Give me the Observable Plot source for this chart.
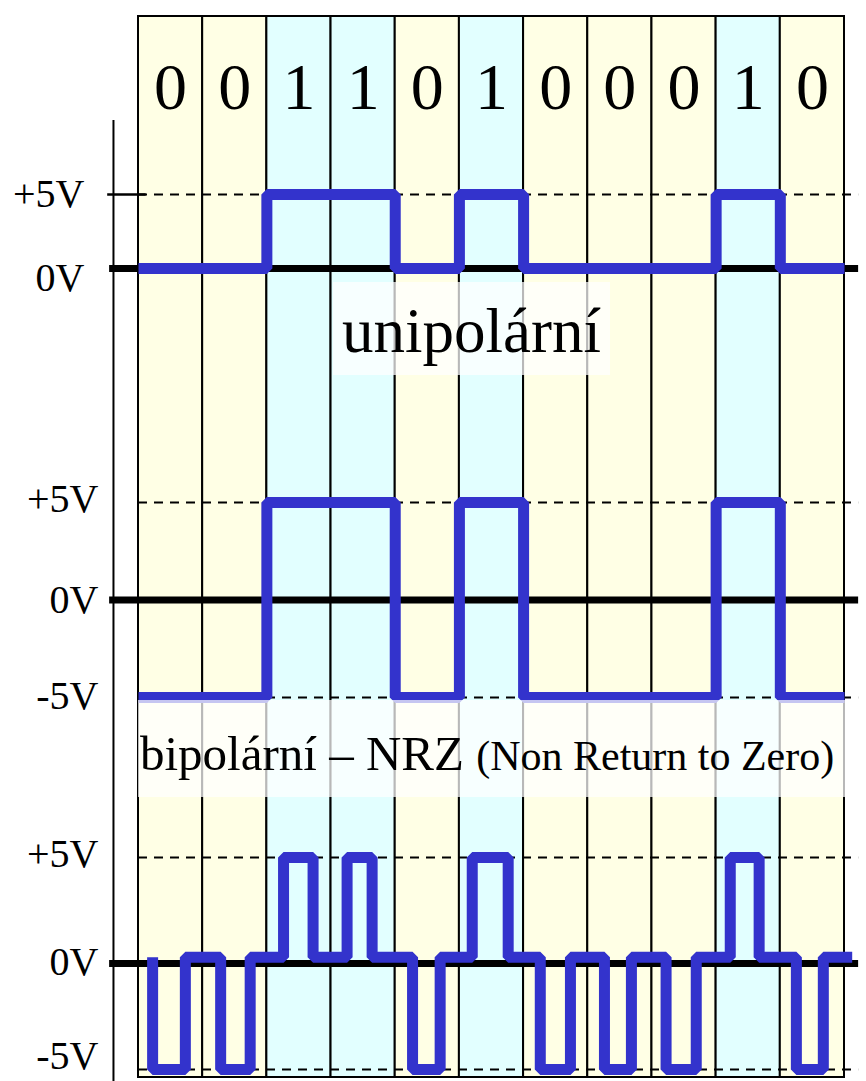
<!DOCTYPE html>
<html><head><meta charset="utf-8">
<script src="https://cdn.jsdelivr.net/npm/d3@7"></script>
<script src="https://cdn.jsdelivr.net/npm/@observablehq/plot@0.6"></script>
<style>
body{margin:0;background:#fff;}
#wrap{position:relative;width:866px;height:1081px;overflow:hidden;font-family:"Liberation Serif","Times New Roman",serif;}
#wrap svg{position:absolute;left:0;top:0;}
.note{position:absolute;background:rgba(255,255,255,0.72);color:#000;white-space:nowrap;box-sizing:border-box;}
</style></head><body><div id="wrap"></div>
<script>
// ---- data ----
const bits = [0, 0, 1, 1, 0, 1, 0, 0, 0, 1, 0];
const unipolarV = [0, 0, 5, 5, 0, 5, 0, 0, 0, 5, 0];
const nrzV = [-5, -5, 5, 5, -5, 5, -5, -5, -5, 5, -5];
// return-to-zero pulses (in bit units)
const rzStart = [0.22, 1.28, 2.26, 3.25, 4.27, 5.20, 6.26, 7.26, 8.22, 9.22, 10.25];
const rzEnd   = [0.73, 1.74, 2.72, 3.64, 4.70, 5.76, 6.73, 7.68, 8.69, 9.67, 10.67];
const rzLevel = [-5, -5, 5, 5, -5, 5, -5, -5, -5, 5, -5];
const rzRest = 0.3;
const rzTraceEnd = 11.12;
const levelLabels = {"5": "+5V", "0": "0V", "-5": "-5V"};

// ---- layout / style ----
const W = 866, H = 1081, ML = 138, MR = 22;
const FONT = "Liberation Serif, Times New Roman, serif";
const BLUE = "#3333cc", YELLOW = "#ffffe5", CYAN = "#e2ffff";
const AXIS_X = -0.39, ZERO_X1 = -0.45, X_END = 11.22;
const N = bits.length;

const wrap = document.getElementById("wrap");

// background: bit cells, grid, bit labels, left axis line
const cells = bits.map((b, i) => ({i, b}));
const bg = Plot.plot({
  width: W, height: H, marginLeft: ML, marginRight: MR, marginTop: 16, marginBottom: 0,
  x: {domain: [0, N], axis: null},
  y: {domain: [0, H - 16], axis: null},
  color: {type: "identity"},
  style: {background: "white", fontFamily: FONT, overflow: "visible"},
  marks: [
    Plot.rect(cells, {x1: "i", x2: d => d.i + 1, y1: 4, y2: H - 16,
      fill: d => d.b ? CYAN : YELLOW, stroke: "#000", strokeWidth: 2}),
    Plot.text(cells, {x: d => d.i + 0.5, frameAnchor: "top", dy: 92, lineAnchor: "bottom",
      text: d => String(d.b), fontSize: 66, fill: "#000", fontFamily: FONT}),
    Plot.ruleX([AXIS_X], {y1: 0, y2: H - 120, stroke: "#000", strokeWidth: 2})
  ]
});
wrap.appendChild(bg);

function panel({yTop, yBottom, domain, ticks, labelDy, dashed, pad, points, curve, extra = []}) {
  return Plot.plot({
    width: W, height: H, marginLeft: ML, marginRight: MR,
    marginTop: yTop, marginBottom: H - yBottom,
    x: {domain: [0, N], axis: null},
    y: {domain, axis: null},
    style: {background: "transparent", fontFamily: FONT, overflow: "visible", color: "#000"},
    marks: [
      Plot.ruleY(dashed, {x1: 0, x2: X_END, stroke: "#000", strokeWidth: 2, strokeDasharray: "9,7"}),
      Plot.ruleY([0], {x1: ZERO_X1, x2: X_END, stroke: "#000", strokeWidth: 7}),
      ...extra,
      Plot.line(points, {x: "t", y: "v", curve, stroke: BLUE, strokeWidth: 11,
        strokeLinejoin: "miter", strokeLinecap: "butt"}),
      ...ticks.map((t, k) => Plot.text([t], {y: d => d, text: d => levelLabels[String(d)],
        frameAnchor: "left", dx: -pad, dy: labelDy[k], textAnchor: "end", lineAnchor: "middle",
        fontSize: 40, fill: "#000", fontFamily: FONT}))
    ]
  });
}

const stepPoints = V => [...V.map((v, i) => ({t: i, v})), {t: N, v: V[N - 1]}];
const rzPoints = [];
rzStart.forEach((s, i) => {
  rzPoints.push({t: s, v: rzRest}, {t: s, v: rzLevel[i]}, {t: rzEnd[i], v: rzLevel[i]}, {t: rzEnd[i], v: rzRest});
});
rzPoints.push({t: rzTraceEnd, v: rzRest});

wrap.appendChild(panel({yTop: 194, yBottom: 268, domain: [0, 5], ticks: [5, 0], labelDy: [0, 10],
  dashed: [5], pad: 54, points: stepPoints(unipolarV), curve: "step-after",
  extra: [Plot.ruleY([5], {x1: -0.48, x2: 0.12, stroke: "#000", strokeWidth: 2.5})]}));
wrap.appendChild(panel({yTop: 502, yBottom: 697, domain: [-5, 5], ticks: [5, 0, -5], labelDy: [-3, 0, -1],
  dashed: [5, -5], pad: 40, points: stepPoints(nrzV), curve: "step-after"}));
wrap.appendChild(panel({yTop: 857, yBottom: 1069, domain: [-5, 5], ticks: [5, 0, -5], labelDy: [-3, -1, -13],
  dashed: [5, -5], pad: 40, points: rzPoints, curve: "linear"}));

// annotation boxes
const uni = document.createElement("div");
uni.className = "note";
Object.assign(uni.style, {left: "333px", top: "282px", width: "277px", height: "93px",
  fontSize: "63px", lineHeight: "93px", textAlign: "center", paddingTop: "3px"});
uni.textContent = "unipolární";
wrap.appendChild(uni);

const bip = document.createElement("div");
bip.className = "note";
Object.assign(bip.style, {left: "138px", top: "700px", width: "707px", height: "97px",
  lineHeight: "97px", paddingLeft: "2px", paddingTop: "5px"});
bip.innerHTML = '<span style="font-size:49px">bipolární – NRZ </span><span style="font-size:42px">(Non Return to Zero)</span>';
wrap.appendChild(bip);
</script>
</body></html>
